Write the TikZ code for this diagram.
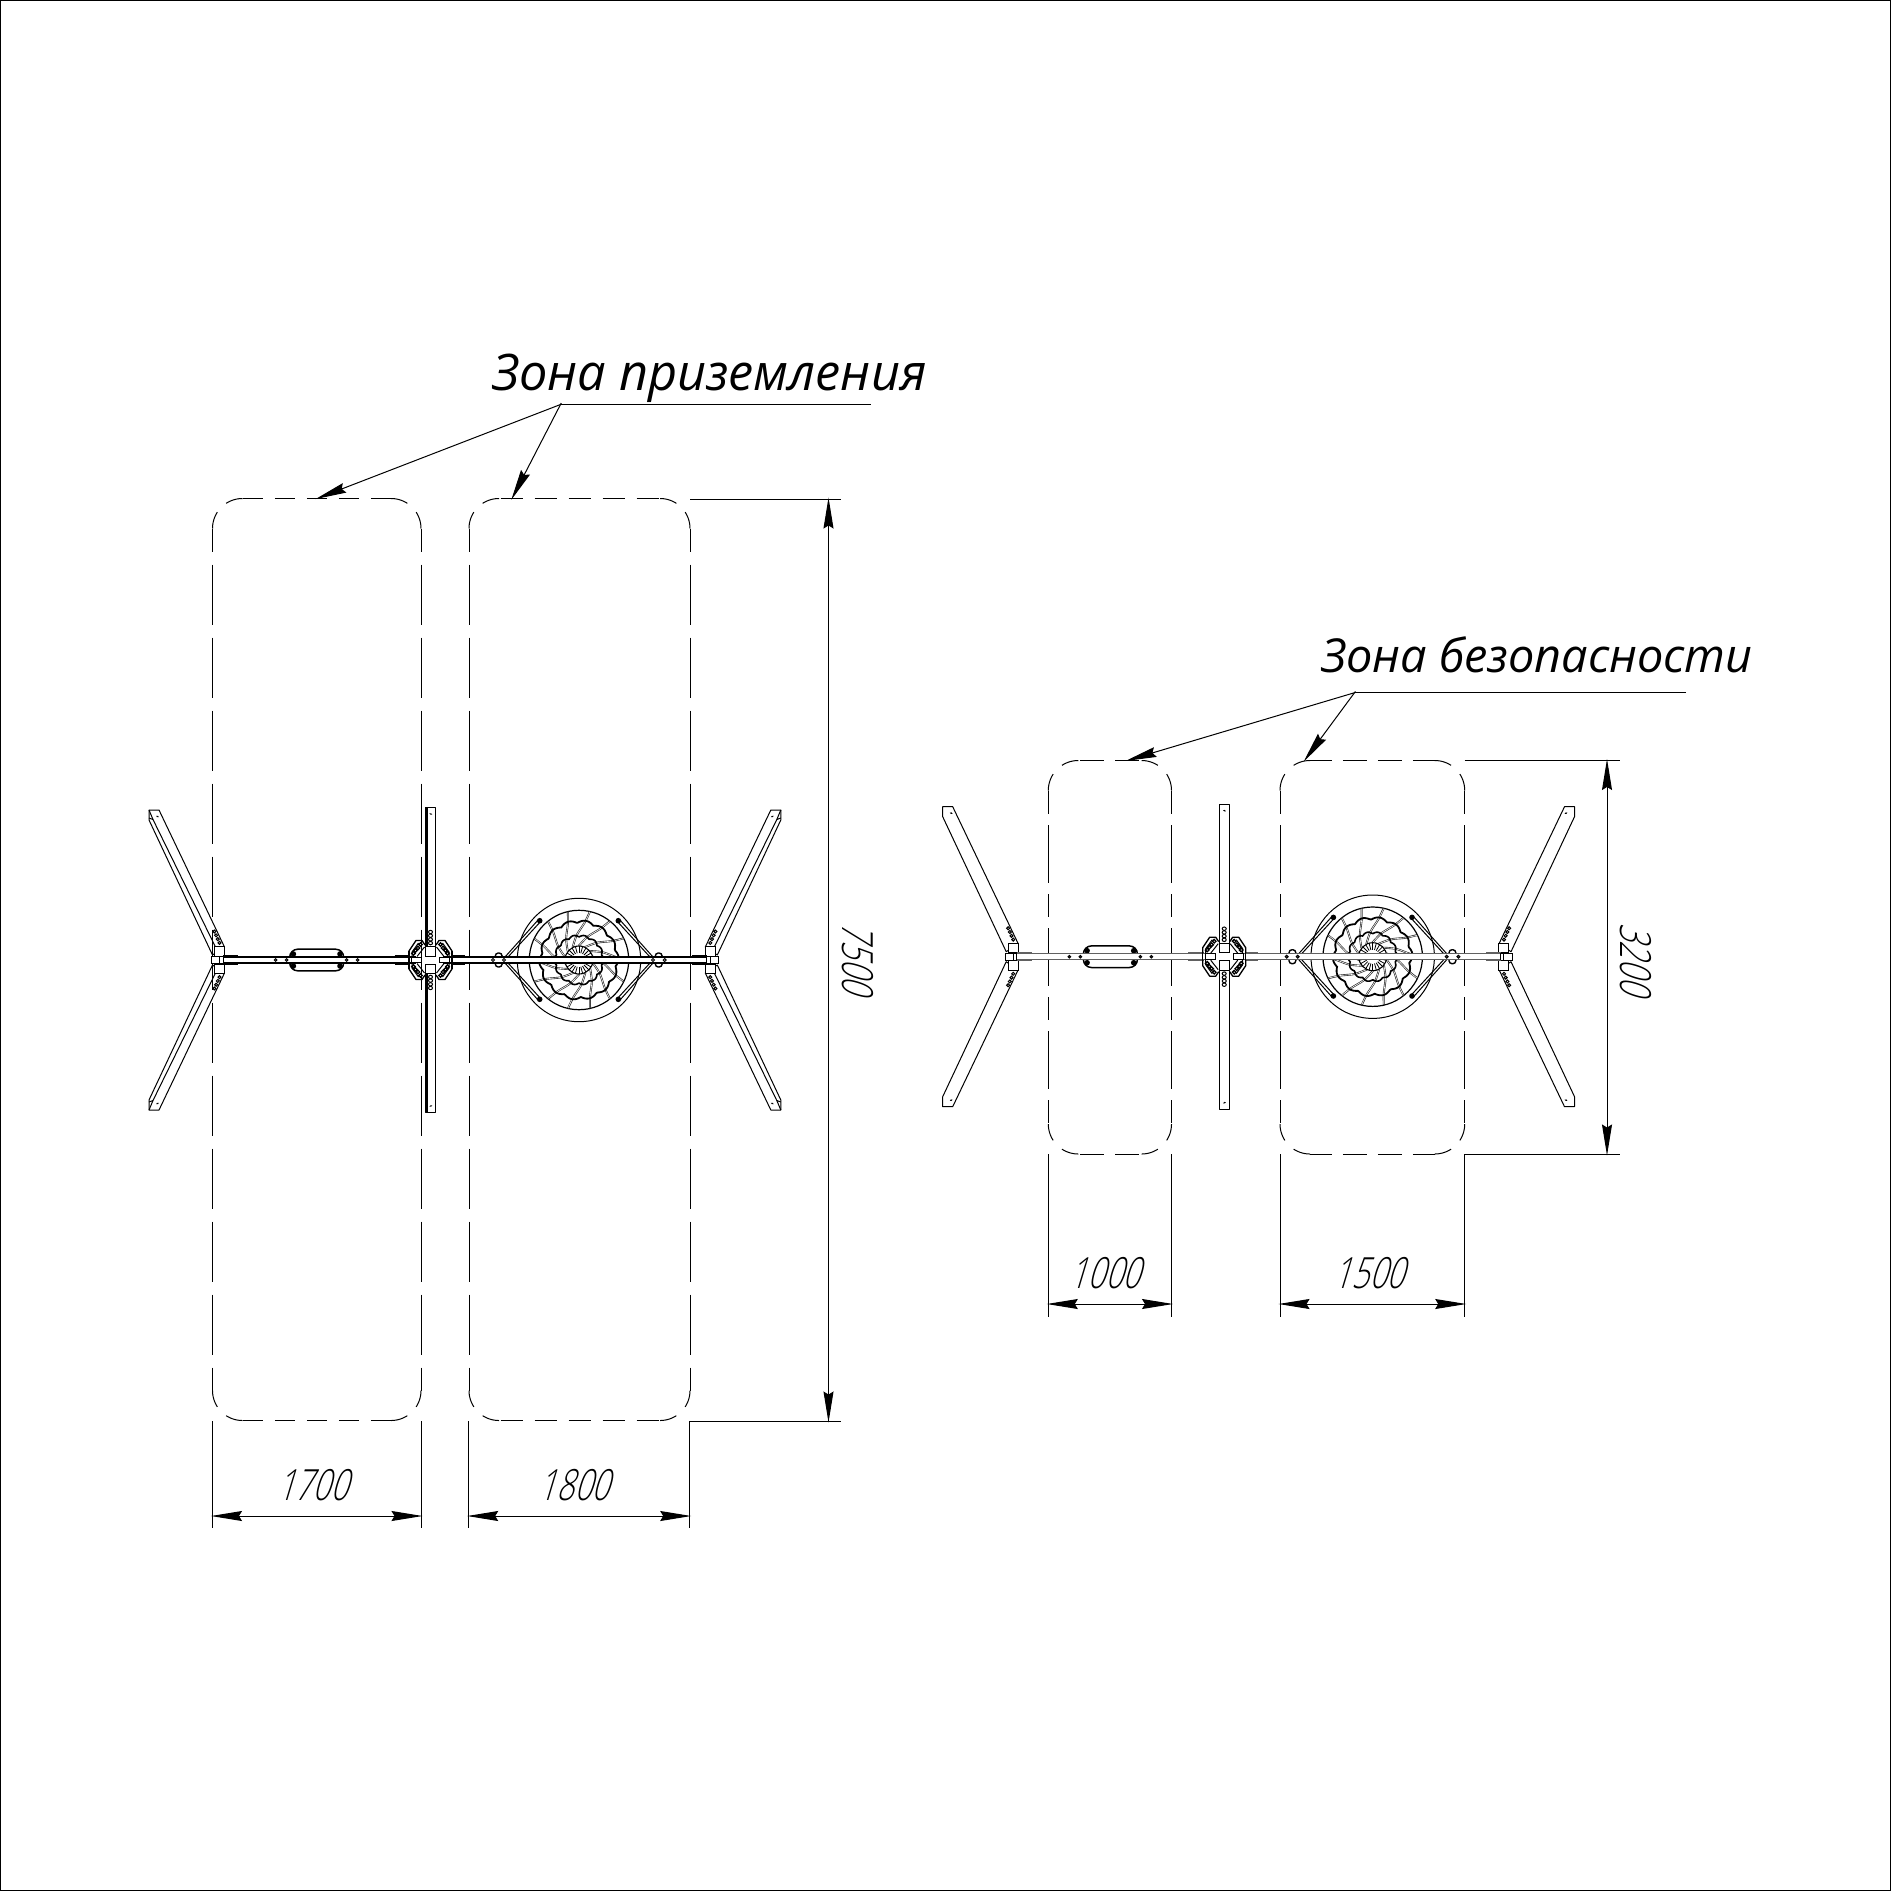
\documentclass[tikz,border=0pt]{standalone}
\usepackage{fontspec}
\usetikzlibrary{arrows.meta}
\setmainfont{Open Sans}
\newfontfamily\labfont[Scale=1]{Open Sans}
\newfontfamily\dimfont[UprightFont=* Light,FakeStretch=0.72,FakeSlant=0.3]{Open Sans}
\tikzset{
  >={Stealth[length=31pt,width=10pt,inset=3pt]},
  zoneline/.style={line width=1pt,black},
  dimline/.style={line width=1pt,black},
  dimarrow/.style={line width=1pt,black,shorten >=-1.5pt,shorten <=-1.5pt},
  eq/.style={line width=1pt,black,line join=round},
  eqb/.style={line width=1.3pt,black,line join=round},
  barline/.style={line width=1.3pt,black},
  holefill/.style={fill=white},
  whitefill/.style={fill=white,draw=black,line width=1pt},
  labl/.style={font=\labfont\itshape\fontsize{50.4}{50}\selectfont,inner sep=0pt},
  labr/.style={font=\labfont\itshape\fontsize{46.8}{47}\selectfont,inner sep=0pt},
  dimtext/.style={font=\dimfont\fontsize{43}{43}\selectfont,inner sep=0pt},
}
% corner arc with a gap in its middle
\newcommand{\zcorner}[4]{%
  \draw[zoneline] plot[domain=#4:#4+33,samples=12,smooth] ({#1+#3*cos(\x)},{#2+#3*sin(\x)});
  \draw[zoneline] plot[domain=#4+57:#4+90,samples=12,smooth] ({#1+#3*cos(\x)},{#2+#3*sin(\x)});
}
% x0 y0 x1 y1 R on off gapcentred longshort
\newcommand{\zonebox}[9]{%
  \pgfmathsetmacro\Lh{#3-#1-2*#5}%
  \pgfmathsetmacro\Lv{#4-#2-2*#5}%
  \pgfmathsetmacro\perh{#6+#7}%
  \pgfmathsetmacro\phh{Mod(#6/2+#8*\perh/2-\Lh/2,\perh)}%
  \draw[zoneline,dash pattern=on #6pt off #7pt,dash phase=\phh pt] ({#1+#5},#2)--({#3-#5},#2);
  \draw[zoneline,dash pattern=on #6pt off #7pt,dash phase=\phh pt] ({#1+#5},#4)--({#3-#5},#4);
  \ifnum#9=1
    \pgfmathsetmacro\phv{Mod(29-\Lv/2,103)}%
    \tikzset{vdash/.style={dash pattern=on 58pt off 11pt on 23pt off 11pt,dash phase=\phv pt}}%
  \else
    \pgfmathsetmacro\phv{Mod(30-\Lv/2,73)}%
    \tikzset{vdash/.style={dash pattern=on 60pt off 13pt,dash phase=\phv pt}}%
  \fi
  \draw[zoneline,vdash] (#1,{#2+#5})--(#1,{#4-#5});
  \draw[zoneline,vdash] (#3,{#2+#5})--(#3,{#4-#5});
  \zcorner{#3-#5}{#2+#5}{#5}{-90}
  \zcorner{#3-#5}{#4-#5}{#5}{0}
  \zcorner{#1+#5}{#4-#5}{#5}{90}
  \zcorner{#1+#5}{#2+#5}{#5}{180}
}
% upper half of the Y post
\newcommand{\yhalf}[1]{%
  \draw[eq] (-69,-150)--(-59,-150)--(6.5,-13)--(-5.5,-5)--(-69,-140)--cycle;
  \ifnum#1=1
    \draw[eq] (-69,-142)--(-65,-140.5)--(-2.5,-13);
    \draw[eq] (-69,-150)--(-65,-140.5);
  \fi
  \fill[black,rotate around={-25:(-60.5,-143.5)}] (-60.5,-143.5) ellipse (1.6 and .8);
  \foreach \k in {0,1,2,3}{\draw[line width=1pt] ({-3.6+\k*1.7},{-28.5+\k*3.8}) circle (1.5);}
  \draw[whitefill] (-3.3,-13.3) rectangle (6.7,-4);
}
\newcommand{\yhub}[1]{%
  \yhalf{#1}
  \begin{scope}[yscale=-1]\yhalf{#1}\end{scope}
  \draw[whitefill] (-6.7,-3.3) rectangle (5,3.3);
  \draw[eq] (1.7,-3.3)--(1.7,3.3);
  \draw[barline] (5,-4)--(20,-4) (5,4)--(20,4);
}
% one half of the cross beam
\newcommand{\crossq}[1]{%
  \draw[eq] (-5,-152.5) rectangle (5,-4);
  \ifnum#1=1 \draw[eqb] (-3.4,-152.5)--(-3.4,-13); \fi
  \fill[black,rotate around={-25:(0.3,-146)}] (0.3,-146) ellipse (1.6 and .8);
  \foreach \k in {0,1,2,3}{\draw[line width=1pt] (0,{-28+\k*3.7}) ellipse (2 and 1.7);}
  \draw[whitefill] (-5,-13.5) rectangle (5,-4);
}
\newcommand{\bracketq}{%
  \draw[eqb] (-21.5,-3.5)--(-21.5,-9)--(-14.5,-19.5)--(-8.5,-19.5)--(-5.5,-15);
  \draw[eq] (-18.5,-3.5)--(-18.5,-8)--(-12,-17);
  \draw[eq] (-13.5,-3.5)--(-6,-13);
  \foreach \p in {(-17,-6.7),(-15,-9.5),(-12.6,-12),(-10,-15.5)}{\draw[line width=1.3pt] \p circle (1.8);}
}
% lifting strap and bolt of the disc
\newcommand{\strapq}{%
  \draw[eq] (-74,-3)--(-40.5,-40.5);
  \draw[eq] (-71,-3)--(-38.2,-38.7);
  \fill[black] (-39.3,-39.3) circle (2.8);
}
% the whole unit
\newcommand{\equnit}[3]{%
\begin{scope}[shift={(#1,#2)}]
  \ifnum#3=0
    \tikzset{barline/.style={line width=1.5pt,black!62},holefill/.style={fill=black!70}}%
  \fi
  % disc
  \begin{scope}[shift={(361,0)}]
    \draw[fill=white,line width=1pt] (0,0) circle (61.7);
    \draw[line width=1.2pt] (0,0) circle (49.7);
    \foreach \a in {0,25.7,...,340}{%
      \draw[line width=1.9pt,black!85] plot[smooth] coordinates {
        ({49.7*cos(\a)},{49.7*sin(\a)}) ({38*cos(\a-4)},{38*sin(\a-4)})
        ({25*cos(\a-18)},{25*sin(\a-18)}) ({14*cos(\a-40)},{14*sin(\a-40)})};
      \draw[line width=.6pt,white] plot[smooth] coordinates {
        ({49*cos(\a)},{49*sin(\a)}) ({38*cos(\a-4)},{38*sin(\a-4)})
        ({25*cos(\a-18)},{25*sin(\a-18)}) ({14*cos(\a-40)},{14*sin(\a-40)})};
    }
    \draw[line width=1.8pt] plot[domain=0:360,samples=150,smooth] ({(37+2.8*abs(cos(7*\x+20)))*cos(\x)},{(37+2.8*abs(cos(7*\x+20)))*sin(\x)});
    \draw[line width=1.6pt] plot[domain=0:360,samples=150,smooth] ({(23+2*abs(cos(7*\x)))*cos(\x)},{(23+2*abs(cos(7*\x)))*sin(\x)});
    \draw[line width=1.1pt,fill=white] (0,0) circle (14);
    \foreach \a in {0,15,...,345}{\draw[line width=.8pt] (\a:7)--(\a:14);}
    \strapq
    \begin{scope}[xscale=-1]\strapq\end{scope}
    \begin{scope}[yscale=-1]\strapq\end{scope}
    \begin{scope}[xscale=-1,yscale=-1]\strapq\end{scope}
  \end{scope}
  % capsule
  \draw[line width=1.5pt,rounded corners=8pt] (71.7,-10.8) rectangle (125.7,10.8);
  \foreach \sx in {-1,1}{\foreach \sy in {-1,1}{\fill[black] ({98.7+\sx*23.3},{\sy*6}) circle (2.8);}}
  % main bars
  \fill[white] (5,-3) rectangle (198,3);
  \fill[white] (225,-3) rectangle (489,3);
  \draw[barline] (5,-3)--(198,-3) (5,3)--(198,3);
  \draw[barline] (225,-3)--(489,-3) (225,3)--(489,3);
  \draw[barline] (176.7,-4)--(192,-4) (176.7,4)--(192,4);
  \draw[barline] (233,-4)--(246.7,-4) (233,4)--(246.7,4);
  \foreach \x in {57.7,68.7,128.7,139.7}{\draw[holefill,line width=1pt] (\x,0) circle (1.3);}
  % disc clamps
  \foreach \x in {280.7,440.7}{
    \draw[fill=white,line width=1.4pt,rounded corners=3pt] ({\x-3.4},-7) rectangle ({\x+3.4},7);
    \fill[white] ({\x-5},-2.6) rectangle ({\x+5},2.6);
    \draw[barline] ({\x-5},-3)--({\x+5},-3) ({\x-5},3)--({\x+5},3);}
  \foreach \x in {275,286,435,446.7}{\draw[holefill,line width=1pt] (\x,0) circle (1.5);}
  % posts
  \yhub{#3}
  \begin{scope}[shift={(493.8,0)},xscale=-1]\yhub{#3}\end{scope}
  % centre
  \begin{scope}[shift={(212.5,0)}]
    \crossq{#3}
    \begin{scope}[yscale=-1]\crossq{#3}\end{scope}
    \bracketq
    \begin{scope}[xscale=-1]\bracketq\end{scope}
    \begin{scope}[yscale=-1]\bracketq\end{scope}
    \begin{scope}[xscale=-1,yscale=-1]\bracketq\end{scope}
    \fill[white] (-8,-3.4) rectangle (8,3.4);
    \draw[whitefill] (-19,-2.9) rectangle (-9,2.9);
    \draw[whitefill] (9,-2.9) rectangle (19,2.9);
    \draw[eqb] (-21.5,-9)--(-21.5,9) (21.5,-9)--(21.5,9);
  \end{scope}
\end{scope}}
\begin{document}
\begin{tikzpicture}[x=1pt,y=-1pt]
\useasboundingbox (0,0) rectangle (1892,1892);
\draw[line width=1.2pt,black] (0.6,0.6) rectangle (1890.4,1890.4);
% zones
\zonebox{212.5}{498.5}{421}{1420.5}{30}{20}{12}{0}{0}
\zonebox{469}{498.5}{690}{1420.5}{30}{22}{12}{0}{0}
\zonebox{1048.3}{760.5}{1171.5}{1154}{30}{24}{11}{1}{1}
\zonebox{1280}{760.5}{1464.7}{1154}{30}{24}{11}{1}{1}
% equipment
\equnit{218}{960}{1}
\equnit{1011.7}{956.7}{0}
% left title
\node[labl,anchor=base] (tl) at (709.5,390) {Зона приземления};
\coordinate (la) at (560.5,404.5);
\coordinate (lb) at (870.6,404.5);
\coordinate (lc) at (317,498.5);
\coordinate (ld) at (512,498.5);
\draw[dimline] (lb)--(la);
\draw[dimarrow,->] (la)--(lc);
\draw[dimarrow,->] (la)--(ld);
% right title
\node[labr,anchor=base] (tr) at (1537,672) {Зона безопасности};
\coordinate (ra) at (1354.5,692.7);
\coordinate (rb) at (1686,692.7);
\coordinate (rc) at (1127,760.5);
\coordinate (rd) at (1304.5,760.5);
\draw[dimline] (rb)--(ra);
\draw[dimarrow,->] (ra)--(rc);
\draw[dimarrow,->] (ra)--(rd);
% left dimensions
\coordinate (e1a) at (212.5,1421); \coordinate (e1b) at (212.5,1528);
\coordinate (e2a) at (421,1421);   \coordinate (e2b) at (421,1528);
\coordinate (e3a) at (468.7,1421); \coordinate (e3b) at (468.7,1528);
\coordinate (e4a) at (689.7,1421); \coordinate (e4b) at (689.7,1528);
\draw[dimline] (e1a)--(e1b) (e2a)--(e2b) (e3a)--(e3b) (e4a)--(e4b);
\coordinate (d1a) at (212.5,1516); \coordinate (d1b) at (421,1516);
\coordinate (d2a) at (468.7,1516); \coordinate (d2b) at (689.7,1516);
\draw[dimarrow,<->] (d1a)--(d1b);
\draw[dimarrow,<->] (d2a)--(d2b);
\node[dimtext] (t1700) at (312.5,1485) {1700};
\node[dimtext] (t1800) at (574,1485) {1800};
\coordinate (h1a) at (690,499);  \coordinate (h1b) at (841,499);
\coordinate (h2a) at (689.7,1421); \coordinate (h2b) at (841,1421);
\draw[dimline] (h1a)--(h1b);
\draw[dimline] (h2a)--(h2b);
\coordinate (v1a) at (828.5,499); \coordinate (v1b) at (828.5,1421);
\draw[dimarrow,<->] (v1a)--(v1b);
\node[dimtext,rotate=-90] (t7500) at (858,958) {7500};
% right dimensions
\coordinate (f1a) at (1048.3,1154); \coordinate (f1b) at (1048.3,1316.5);
\coordinate (f2a) at (1171.5,1154); \coordinate (f2b) at (1171.5,1316.5);
\coordinate (f3a) at (1280,1154);   \coordinate (f3b) at (1280,1316.5);
\coordinate (f4a) at (1464.7,1154); \coordinate (f4b) at (1464.7,1316.5);
\draw[dimline] (f1a)--(f1b) (f2a)--(f2b) (f3a)--(f3b) (f4a)--(f4b);
\coordinate (g1a) at (1048.3,1304); \coordinate (g1b) at (1171.5,1304);
\coordinate (g2a) at (1280,1304);   \coordinate (g2b) at (1464.7,1304);
\draw[dimarrow,<->] (g1a)--(g1b);
\draw[dimarrow,<->] (g2a)--(g2b);
\node[dimtext] (t1000) at (1105,1273) {1000};
\node[dimtext] (t1500) at (1369,1273) {1500};
\coordinate (k1a) at (1464.7,760.5); \coordinate (k1b) at (1620,760.5);
\coordinate (k2a) at (1464.7,1154);  \coordinate (k2b) at (1620,1154);
\draw[dimline] (k1a)--(k1b);
\draw[dimline] (k2a)--(k2b);
\coordinate (w1a) at (1607,760.5); \coordinate (w1b) at (1607,1154);
\draw[dimarrow,<->] (w1a)--(w1b);
\node[dimtext,rotate=-90] (t3200) at (1636,958.5) {3200};
\end{tikzpicture}
\end{document}
